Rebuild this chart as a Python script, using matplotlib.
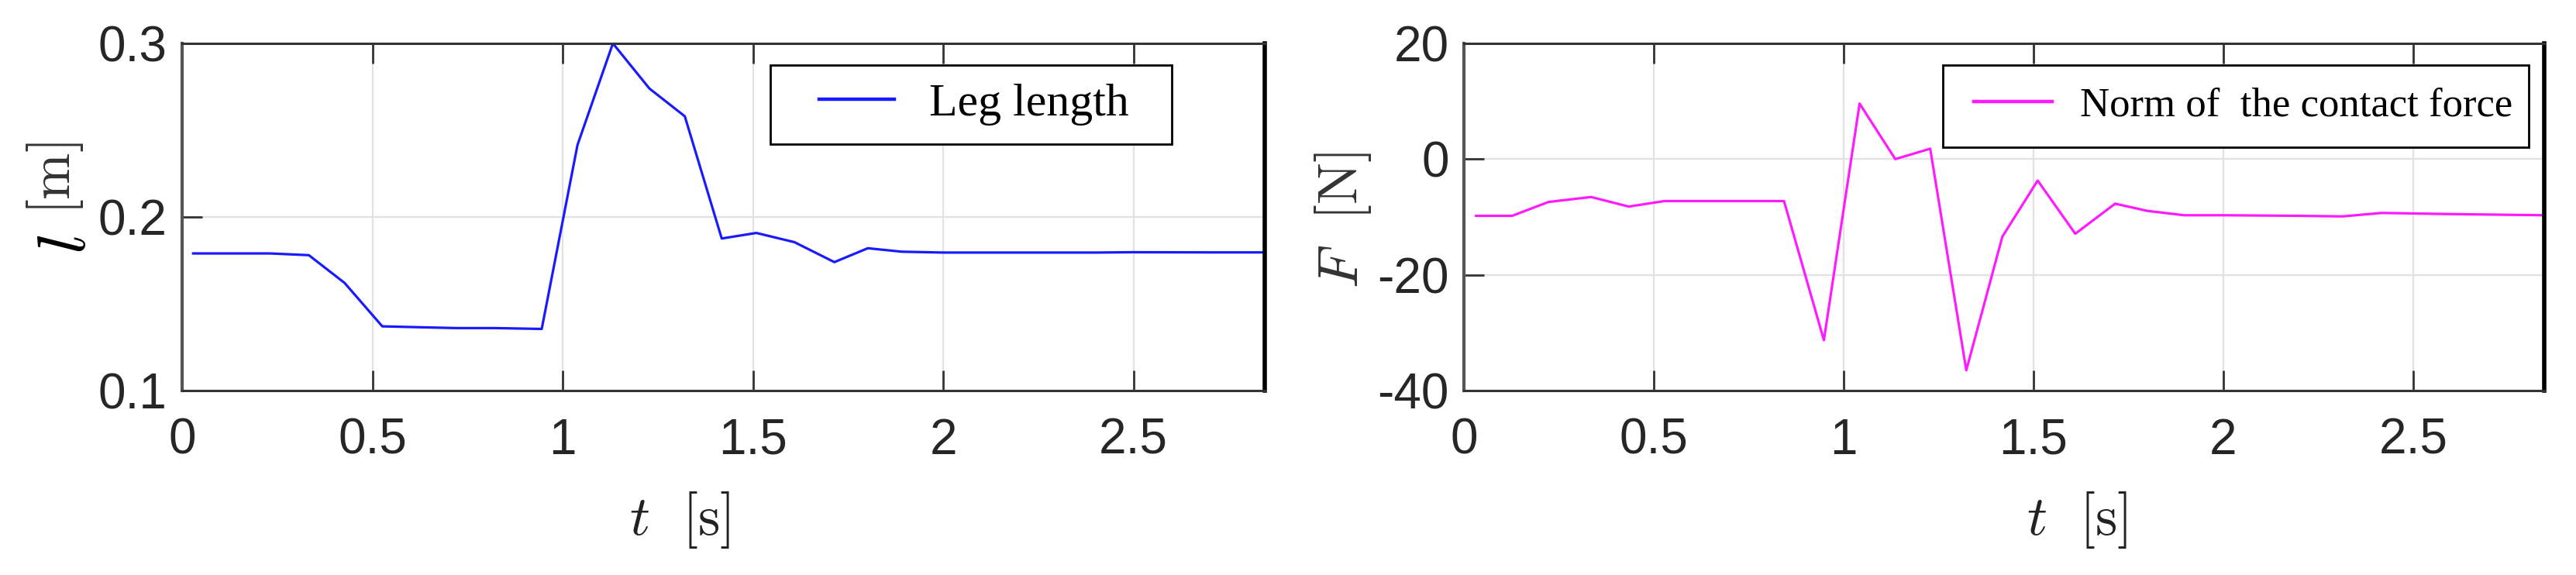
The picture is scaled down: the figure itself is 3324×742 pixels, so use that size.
import matplotlib
matplotlib.use("Agg")
import matplotlib.pyplot as plt
from matplotlib.legend_handler import HandlerLine2D

# leg length
t_leg = [0.029, 0.13, 0.231, 0.333, 0.427, 0.526, 0.62, 0.72, 0.82, 0.945, 1.039,
         1.132, 1.228, 1.321, 1.418, 1.509, 1.609, 1.714, 1.802, 1.891, 2.0, 2.2,
         2.4, 2.5, 2.7, 2.845]
l_leg = [0.179, 0.179, 0.179, 0.178, 0.162, 0.137, 0.1365, 0.136, 0.136, 0.1355,
         0.2415, 0.300, 0.274, 0.258, 0.1876, 0.1908, 0.1855, 0.174, 0.182, 0.180,
         0.1795, 0.1795, 0.1795, 0.1797, 0.1796, 0.1796]

# contact force norm, right panel
t_force = [0.032, 0.127, 0.223, 0.335, 0.434, 0.528, 0.65, 0.75, 0.843, 0.948, 1.042,
           1.136, 1.228, 1.323, 1.418, 1.511, 1.610, 1.715, 1.80, 1.897, 2.0, 2.2,
           2.314, 2.417, 2.6, 2.845]
f_force = [-9.8, -9.8, -7.4, -6.55, -8.2, -7.25, -7.25, -7.25, -7.25, -31.3, 9.6,
           0.0, 1.8, -36.5, -13.4, -3.7, -12.9, -7.7, -8.95, -9.7, -9.7, -9.8,
           -9.9, -9.3, -9.5, -9.7]

xticks = [0, 0.5, 1, 1.5, 2, 2.5]
xticklabels = ['0', '0.5', '1', '1.5', '2', '2.5']
yticks_leg = [0.1, 0.2, 0.3]
yticklabels_leg = ['0.1', '0.2', '0.3']
yticks_force = [-40, -20, 0, 20]
yticklabels_force = ['-40', '-20', '0', '20']

plt.rcParams['mathtext.fontset'] = 'cm'
W, H = 3324, 742
fig = plt.figure(figsize=(W / 100, H / 100), dpi=100)

ax_bottom = 1 - 504 / H
ax_h = 448 / H
ax1 = fig.add_axes([235 / W, ax_bottom, 1397 / W, ax_h])
ax2 = fig.add_axes([1889 / W, ax_bottom, 1394 / W, ax_h])

tick_font = dict(family='Liberation Sans', size=46, color='#262626')


def style(ax, yticks, yticklabels, ylim):
    ax.set_xlim(0, 2.845)
    ax.set_ylim(*ylim)
    ax.set_xticks(xticks)
    ax.set_xticklabels(xticklabels, fontdict=tick_font)
    ax.set_yticks(yticks)
    ax.set_yticklabels(yticklabels, fontdict=tick_font)
    ax.grid(True, color='#e2e2e2', linewidth=1.6)
    ax.set_axisbelow(True)
    ax.tick_params(axis='x', direction='in', length=19, width=2, color='#333333',
                   top=True, pad=25)
    ax.tick_params(axis='y', direction='in', length=19, width=2, color='#333333',
                   right=False, pad=14)
    for s in ['top', 'bottom']:
        ax.spines[s].set_linewidth(2.2)
        ax.spines[s].set_color('#333333')
    ax.spines['left'].set_linewidth(3)
    ax.spines['left'].set_color('#555555')
    ax.spines['right'].set_linewidth(4)
    ax.spines['right'].set_color('black')


style(ax1, yticks_leg, yticklabels_leg, (0.1, 0.3))
style(ax2, yticks_force, yticklabels_force, (-40, 20))

ln1, = ax1.plot(t_leg, l_leg, color='#1a1aff', linewidth=2.3, label='Leg length')
ln2, = ax2.plot(t_force, f_force, color='#ff1aff', linewidth=2.3,
                label='Norm of  the contact force')

# legends, boxes sized like the reference
leg1 = ax1.legend(handles=[ln1], loc='upper left', mode='expand',
                  bbox_to_anchor=((994 - 235) / 1397, (504 - 88) / 448, 518 / 1397, 0.01),
                  borderaxespad=0, borderpad=0.4, handlelength=2.28, handletextpad=0.75,
                  fancybox=False, framealpha=1, edgecolor='black',
                  prop=dict(family='Liberation Serif', size=43),
                  handler_map={ln1: HandlerLine2D(xpad=0.65)})
leg1.get_frame().set_linewidth(2)
leg2 = ax2.legend(handles=[ln2], loc='upper left', mode='expand',
                  bbox_to_anchor=((2507 - 1889) / 1394, (504 - 88) / 448, 756 / 1394, 0.01),
                  borderaxespad=0, borderpad=0.55, handlelength=2.12, handletextpad=0.68,
                  fancybox=False, framealpha=1, edgecolor='black',
                  prop=dict(family='Liberation Serif', size=38),
                  handler_map={ln2: HandlerLine2D(xpad=0.21)})
leg2.get_frame().set_linewidth(2)
for leg in (leg1, leg2):
    for line in leg.get_lines():
        line.set_linewidth(3.2)

# axis labels
ax1.set_xlabel(r'$t\ \ [\mathrm{s}]$', fontsize=52, color='#222222')
ax1.xaxis.set_label_coords((877 - 235) / 1397, (504 - 632) / 448)
ax2.set_xlabel(r'$t\ \ [\mathrm{s}]$', fontsize=52, color='#222222')
ax2.xaxis.set_label_coords((2680 - 1889) / 1394, (504 - 632) / 448)

ax1.text((110 - 235) / 1397, (504 - 230) / 448, r'$[\mathrm{m}]$', fontsize=52,
         color='#333333', rotation=90, rotation_mode='anchor', ha='center',
         va='bottom', transform=ax1.transAxes)
ax1.text((110 - 235) / 1397, (504 - 315) / 448, r'$l$', fontsize=64,
         color='black', rotation=90, rotation_mode='anchor', ha='center',
         va='baseline', transform=ax1.transAxes)

ax2.set_ylabel(r'$F\ \ [\mathrm{N}]$', fontsize=52, color='#333333')
ax2.yaxis.set_label_coords((1772 - 1889) / 1394, (504 - 284) / 448)

fig.savefig('out.png', dpi=100)
